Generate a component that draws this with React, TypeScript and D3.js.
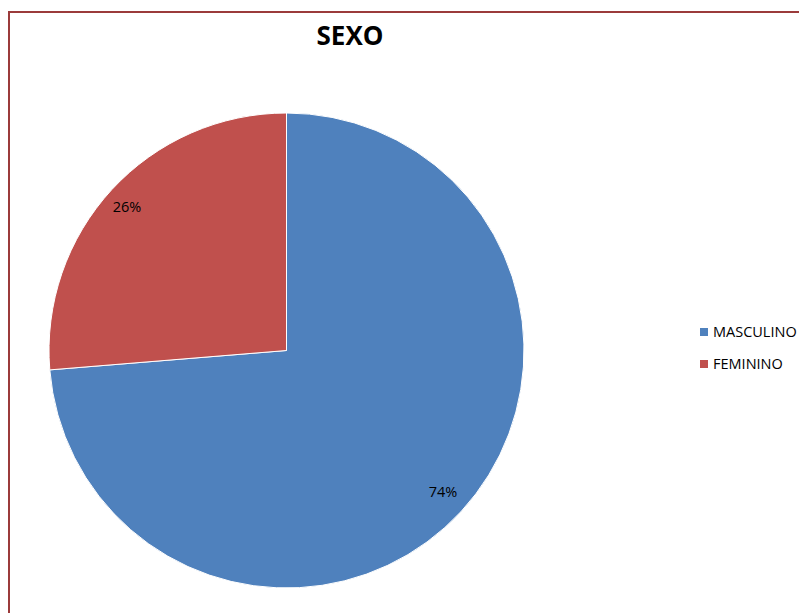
import React from "react";
import * as d3 from "d3";

const categories = ["MASCULINO", "FEMININO"];
const values = [73.7, 26.3];
const colors = ["#4f81bd", "#c0504d"];
const title = "SEXO";

export default function App() {
  const W = 799, H = 613;
  const cx = 286.5, cy = 350.5, r = 237.5;
  const pie = d3.pie<number>().sort(null).value((d) => d)(values);
  const arc = d3.arc<d3.PieArcDatum<number>>().innerRadius(0).outerRadius(r);
  const total = d3.sum(values);
  const font = "'Open Sans', 'Liberation Sans', sans-serif";
  return (
    <svg width={W} height={H} style={{ position: "absolute", left: 0, top: 0, background: "#fff" }}>
      <rect x={9} y={12} width={W + 10} height={H + 10} fill="#fff" stroke="#9b3b3b" strokeWidth={2} />
      <text x={350} y={45} textAnchor="middle" fontFamily={font} fontWeight="bold" fontSize={26} fill="#000">{title}</text>
      <g transform={`translate(${cx},${cy})`}>
        {pie.map((p, i) => (
          <path key={i} d={arc(p)!} fill={colors[i]} stroke="#fff" strokeWidth={1} />
        ))}
      </g>
      <text x={443} y={497} textAnchor="middle" fontFamily={font} fontSize={14.5} fill="#000">{Math.round((values[0] / total) * 100)}%</text>
      <text x={127} y={212} textAnchor="middle" fontFamily={font} fontSize={14.5} fill="#000">{Math.round((values[1] / total) * 100)}%</text>
      {categories.map((c, i) => (
        <g key={c} transform={`translate(700,${331 + i * 32})`}>
          <rect x={0} y={-3} width={8} height={8} fill={colors[i]} />
          <text x={13} y={5.5} fontFamily={font} fontSize={14.5} fill="#000">{c}</text>
        </g>
      ))}
    </svg>
  );
}
